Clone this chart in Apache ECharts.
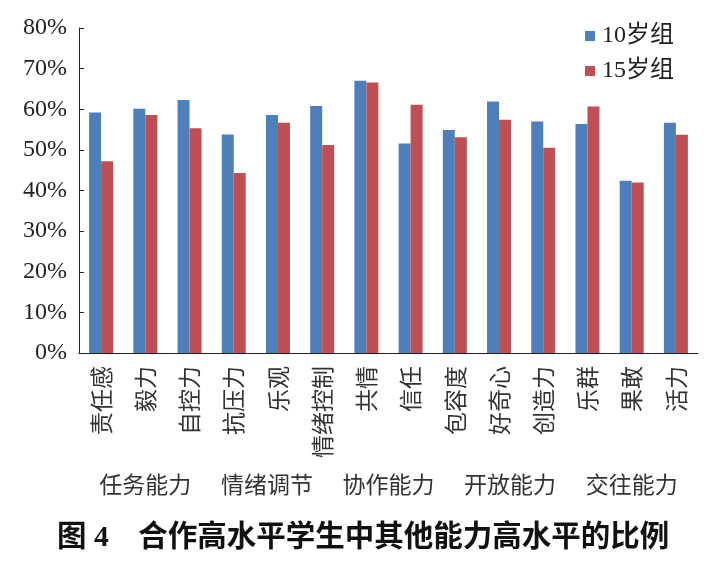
<!DOCTYPE html>
<html>
<head>
<meta charset="utf-8">
<script src="https://cdn.jsdelivr.net/npm/echarts@6/dist/echarts.min.js"></script>
<style>
html,body{margin:0;padding:0;background:#fff;}
#chart{width:722px;height:578px;}
</style>
</head>
<body>
<div id="chart"></div>
<script>
const categories = ['责任感','毅力','自控力','抗压力','乐观','情绪控制','共情','信任','包容度','好奇心','创造力','乐群','果敢','活力'];
const age10 = [59.2, 60.1, 62.3, 53.8, 58.6, 60.8, 67.0, 51.6, 54.9, 61.9, 57.0, 56.4, 42.4, 56.7];
const age15 = [47.2, 58.6, 55.3, 44.3, 56.7, 51.2, 66.6, 61.1, 53.1, 57.4, 50.5, 60.7, 42.0, 53.7];
const seriesNames = ['10岁组', '15岁组'];
const groupNames = ['任务能力','情绪调节','协作能力','开放能力','交往能力'];
const groupCenters = [1.5, 4.25, 7, 9.75, 12.5];
const yTicks = [0, 10, 20, 30, 40, 50, 60, 70, 80];
const captionText = '图 4　合作高水平学生中其他能力高水平的比例';

const cjk = "'Noto Sans CJK SC', sans-serif";
const serif = "'Liberation Serif', 'Noto Sans CJK SC', serif";

const chart = echarts.init(document.getElementById('chart'), null, {renderer: 'canvas'});
chart.setOption({
  animation: false,
  backgroundColor: '#fff',
  title: {
    text: captionText,
    left: 57, top: 524, padding: 0,
    textStyle: {fontFamily: serif, fontSize: 29.5, fontWeight: 'bold', color: '#111'}
  },
  legend: {
    orient: 'vertical',
    left: 585, top: 24, padding: 0,
    itemWidth: 10, itemHeight: 10, itemGap: 11,
    icon: 'rect',
    data: seriesNames,
    textStyle: {fontFamily: serif, fontSize: 24, color: '#222', padding: [0,0,0,2]}
  },
  grid: {left: 79, right: 24, top: 28, bottom: 225, containLabel: false},
  xAxis: [{
    type: 'category',
    data: categories,
    axisLine: {lineStyle: {color: '#222', width: 1}},
    axisTick: {inside: true, length: 5, lineStyle: {color: '#222'}},
    axisLabel: {
      rotate: 90, margin: 13, interval: 0,
      fontFamily: cjk, fontSize: 23, color: '#333'
    }
  }, {
    type: 'value',
    position: 'bottom',
    min: 0, max: categories.length, interval: 0.25,
    axisLine: {show: false}, axisTick: {show: false}, splitLine: {show: false},
    axisLabel: {
      margin: 120, fontFamily: cjk, fontSize: 23, color: '#333',
      showMinLabel: true, showMaxLabel: true,
      formatter: function (v) {
        for (let i = 0; i < groupCenters.length; i++) {
          if (Math.abs(v - groupCenters[i]) < 1e-6) return groupNames[i];
        }
        return '';
      }
    }
  }],
  yAxis: {
    type: 'value',
    min: yTicks[0], max: yTicks[yTicks.length - 1], interval: 10,
    axisLine: {show: true, lineStyle: {color: '#222', width: 1}},
    axisTick: {show: true, inside: true, length: 5, lineStyle: {color: '#222'}},
    splitLine: {show: false},
    axisLabel: {
      margin: 12, fontFamily: serif, fontSize: 24, color: '#222',
      formatter: '{value}%'
    }
  },
  series: [{
    name: seriesNames[0], type: 'bar', xAxisIndex: 0,
    data: age10, barWidth: 12, barGap: '0%',
    itemStyle: {color: '#4F7FBA'}
  }, {
    name: seriesNames[1], type: 'bar', xAxisIndex: 0,
    data: age15, barWidth: 12, barGap: '0%',
    itemStyle: {color: '#BE4F55'}
  }]
});
</script>
</body>
</html>
